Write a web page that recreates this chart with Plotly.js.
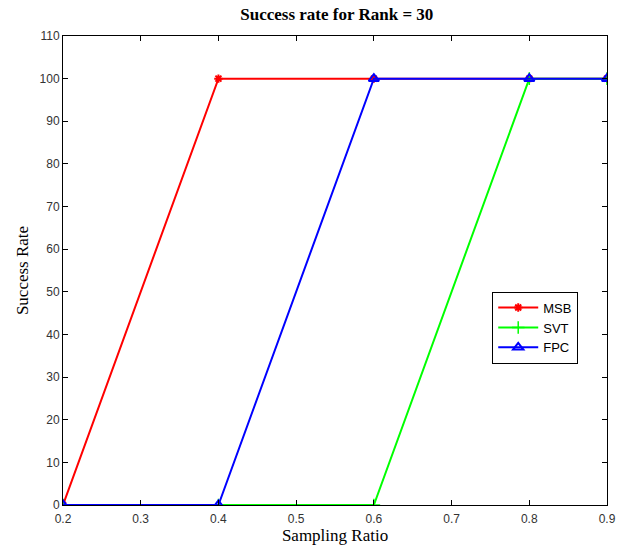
<!DOCTYPE html>
<html>
<head>
<meta charset="utf-8">
<script src="https://cdn.plot.ly/plotly-3.0.1.min.js"></script>
<style>html,body{margin:0;padding:0;background:#fff;}#chart{width:618px;height:552px;}</style>
</head>
<body>
<div id="chart"></div>
<script>
const samplingRatio = [0.2, 0.4, 0.6, 0.8, 0.9];
const msb = [0, 100, 100, 100, 100];
const svt = [0, 0, 0, 100, 100];
const fpc = [0, 0, 100, 100, 100];
const xTicks = [0.2, 0.3, 0.4, 0.5, 0.6, 0.7, 0.8, 0.9];
const yTicks = [0, 10, 20, 30, 40, 50, 60, 70, 80, 90, 100, 110];

const traces = [
  {x: samplingRatio, y: msb, name: 'MSB', mode: 'lines+markers',
   line: {color: '#ff0000', width: 2},
   marker: {symbol: 'asterisk-open', size: 7, color: '#ff0000', line: {color: '#ff0000', width: 2}}},
  {x: samplingRatio, y: svt, name: 'SVT', mode: 'lines+markers',
   line: {color: '#00ff00', width: 2},
   marker: {symbol: 'cross-thin-open', size: 9, color: '#00ff00', line: {color: '#00ff00', width: 1.5}}},
  {x: samplingRatio, y: fpc, name: 'FPC', mode: 'lines+markers',
   line: {color: '#0000ff', width: 2},
   marker: {symbol: 'triangle-up-open', size: 9, color: '#0000ff', line: {color: '#0000ff', width: 2}}}
];

const axisCommon = {
  showline: true, linecolor: '#000', linewidth: 1, mirror: 'ticks',
  ticks: 'inside', ticklen: 5, tickcolor: '#000', tickwidth: 1,
  showgrid: false, zeroline: false,
  tickfont: {family: 'Liberation Sans, Arial, sans-serif', size: 12, color: '#333'}
};

const layout = {
  width: 618, height: 552,
  margin: {l: 63, r: 11, t: 36, b: 47},
  paper_bgcolor: '#fff', plot_bgcolor: '#fff',
  title: {text: '<b>Success rate for Rank = 30</b>', x: 0.545, xanchor: 'center', y: 0.975, yanchor: 'middle',
          font: {family: 'Liberation Serif, Times New Roman, serif', size: 17, color: '#000'}},
  xaxis: Object.assign({}, axisCommon, {range: [0.2, 0.9], tickvals: xTicks, ticktext: xTicks.map(String),
    ticklabelstandoff: 3,
    title: {text: 'Sampling Ratio', standoff: 2, font: {family: 'Liberation Serif, Times New Roman, serif', size: 17, color: '#000'}}}),
  yaxis: Object.assign({}, axisCommon, {range: [0, 110], tickvals: yTicks, ticktext: yTicks.map(String),
    title: {text: 'Success Rate', standoff: 6, font: {family: 'Liberation Serif, Times New Roman, serif', size: 17, color: '#000'}}}),
  showlegend: true,
  legend: {x: 0.789, y: 0.455, xanchor: 'left', yanchor: 'top', bgcolor: '#fff', bordercolor: '#000', borderwidth: 1,
           font: {family: 'Liberation Sans, Arial, sans-serif', size: 13, color: '#000'}, tracegroupgap: 0, itemwidth: 40}
};

Plotly.newPlot('chart', traces, layout, {displayModeBar: false, staticPlot: true});
</script>
</body>
</html>
